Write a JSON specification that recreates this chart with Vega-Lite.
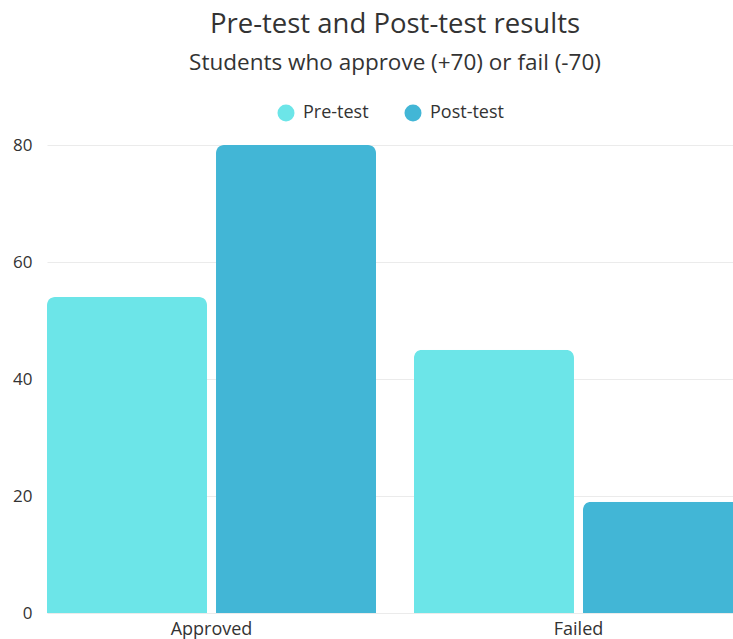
{
  "$schema": "https://vega.github.io/schema/vega-lite/v6.json",
  "width": 696,
  "height": 468,
  "autosize": "none",
  "padding": {"left": 47, "top": 145, "right": -10, "bottom": 26},
  "background": "white",
  "title": {
    "text": "Pre-test and Post-test results",
    "subtitle": "Students who approve (+70) or fail (-70)",
    "font": "Open Sans",
    "fontSize": 27.5,
    "fontWeight": "normal",
    "color": "#333333",
    "subtitleFont": "Open Sans",
    "subtitleFontSize": 22.5,
    "subtitleColor": "#333333",
    "subtitlePadding": 13,
    "anchor": "middle",
    "frame": "group",
    "offset": 30
  },
  "data": {
    "values": [
      {"category": "Approved", "test": "Pre-test", "value": 54},
      {"category": "Approved", "test": "Post-test", "value": 80},
      {"category": "Failed", "test": "Pre-test", "value": 45},
      {"category": "Failed", "test": "Post-test", "value": 19}
    ]
  },
  "mark": {"type": "bar", "cornerRadiusTopLeft": 8, "cornerRadiusTopRight": 8},
  "encoding": {
    "x": {
      "field": "category",
      "type": "nominal",
      "sort": ["Approved", "Failed"],
      "scale": {"paddingInner": 0.1035, "paddingOuter": 0},
      "axis": {
        "title": null,
        "labelAngle": 0,
        "domain": false,
        "ticks": false,
        "labelFont": "Open Sans",
        "labelFontSize": 18,
        "labelColor": "#333333",
        "labelPadding": 7
      }
    },
    "xOffset": {
      "field": "test",
      "type": "nominal",
      "sort": ["Pre-test", "Post-test"],
      "scale": {"paddingInner": 0.0533, "paddingOuter": 0}
    },
    "y": {
      "field": "value",
      "type": "quantitative",
      "scale": {"domain": [0, 80], "nice": false},
      "axis": {
        "title": null,
        "values": [0, 20, 40, 60, 80],
        "domain": false,
        "ticks": false,
        "gridColor": "#ebebeb",
        "labelFont": "Open Sans",
        "labelFontSize": 17,
        "labelColor": "#333333",
        "labelPadding": 15
      }
    },
    "color": {
      "field": "test",
      "type": "nominal",
      "scale": {"domain": ["Pre-test", "Post-test"], "range": ["#6ce5e8", "#42b6d6"]},
      "legend": {
        "title": null,
        "orient": "none",
        "direction": "horizontal",
        "legendX": 230,
        "legendY": -41,
        "symbolType": "circle",
        "symbolSize": 289,
        "symbolStrokeWidth": 0,
        "labelFont": "Open Sans",
        "labelFontSize": 18,
        "labelColor": "#333333",
        "labelOffset": 8,
        "columnPadding": 35
      }
    }
  },
  "config": {"view": {"stroke": null}}
}
